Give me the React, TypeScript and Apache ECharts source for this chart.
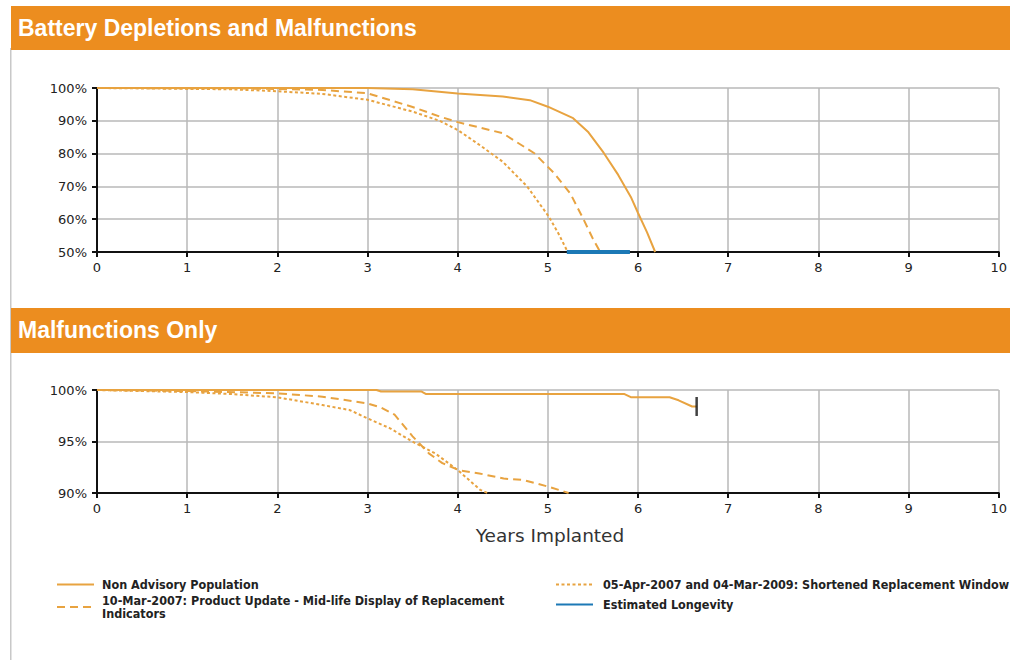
import React, { useEffect, useRef } from "react";
import * as echarts from "echarts";

// ---- data ----
const xTicks = [0, 1, 2, 3, 4, 5, 6, 7, 8, 9, 10];
const titleTop = "Battery Depletions and Malfunctions";
const titleBottom = "Malfunctions Only";
const xAxisTitle = "Years Implanted";

const seriesNames = [
  "Non Advisory Population",
  "10-Mar-2007: Product Update - Mid-life Display of Replacement Indicators",
  "05-Apr-2007 and 04-Mar-2009: Shortened Replacement Window",
  "Estimated Longevity",
];

// Chart 1: battery depletions and malfunctions (survival %)
const c1NonAdvisory: [number, number][] = [
  [0, 100], [2, 100], [3, 100], [3.5, 99.6], [4, 98.3], [4.5, 97.4], [4.8, 96.3],
  [5.0, 94.3], [5.28, 90.8], [5.45, 86.5], [5.62, 80.2], [5.78, 73.5], [5.92, 66.8],
  [6.0, 61.9], [6.1, 56], [6.19, 50],
];
const c1ProductUpdate: [number, number][] = [
  [0, 100], [1.5, 99.9], [2, 99.7], [2.5, 99.4], [3, 98.4], [3.5, 94.2], [3.8, 91.3],
  [4, 89.6], [4.5, 86.2], [4.85, 80.1], [5.07, 74], [5.25, 67.8], [5.4, 59.7],
  [5.5, 54], [5.58, 50],
];
const c1Shortened: [number, number][] = [
  [0, 100], [1.5, 99.6], [2, 99.0], [2.5, 98.2], [3, 96.4], [3.5, 92.8], [3.8, 90],
  [4, 87.2], [4.25, 82.5], [4.5, 77.5], [4.77, 70], [5.01, 60.8], [5.12, 55.5],
  [5.22, 50],
];
const c1Longevity: [number, number][] = [
  [5.21, 50], [5.91, 50],
];

// Chart 2: malfunctions only (survival %)
const c2NonAdvisory: [number, number][] = [
  [0, 100], [3.1, 100], [3.15, 99.85], [3.6, 99.85], [3.65, 99.6], [5.85, 99.6],
  [5.92, 99.3], [6.35, 99.3], [6.45, 99.0], [6.6, 98.4], [6.65, 98.4],
];
const c2ProductUpdate: [number, number][] = [
  [0, 100], [1, 99.9], [2, 99.68], [2.5, 99.35], [3, 98.7], [3.15, 98.3], [3.3, 97.6],
  [3.5, 95.5], [3.68, 93.85], [3.83, 92.9], [4.02, 92.2], [4.24, 91.9], [4.51, 91.4],
  [4.73, 91.26], [5.01, 90.6], [5.23, 90],
];
const c2Shortened: [number, number][] = [
  [0, 100], [1, 99.8], [1.5, 99.6], [2, 99.29], [2.5, 98.54], [2.8, 98.06], [3, 97.25],
  [3.25, 96.28], [3.5, 94.98], [3.75, 93.85], [4, 92.23], [4.25, 90.3], [4.33, 90],
];

const ORANGE_HEADER = "#EC8D1F";
const LINE_ORANGE = "#E8A340";
const BLUE = "#1C79B6";

export default function App() {
  const ref = useRef<HTMLDivElement>(null);

  useEffect(() => {
    if (!ref.current) return;
    const chart = echarts.init(ref.current, undefined, { renderer: "svg" });

    const axisFont = { fontFamily: "DejaVu Sans", fontSize: 13, color: "#222" };

    const makeXAxis = (gridIndex: number) => ({
      type: "value",
      gridIndex,
      min: xTicks[0],
      max: xTicks[xTicks.length - 1],
      interval: 1,
      axisLine: { show: true, onZero: false, lineStyle: { color: "#111", width: 2 } },
      axisTick: { show: true, length: 5, lineStyle: { color: "#111", width: 2 } },
      axisLabel: { ...axisFont, margin: 9 },
      splitLine: { show: true, lineStyle: { color: "#b8b8b8", width: 1.5 } },
    });

    const makeYAxis = (gridIndex: number, min: number, interval: number) => ({
      type: "value",
      gridIndex,
      min,
      max: 100,
      interval,
      axisLine: { show: true, onZero: false, lineStyle: { color: "#111", width: 2 } },
      axisTick: { show: true, length: 5, lineStyle: { color: "#111", width: 2 } },
      axisLabel: { ...axisFont, margin: 10, formatter: "{value}%" },
      splitLine: { show: true, lineStyle: { color: "#b8b8b8", width: 1.5 } },
    });

    const lineSeries = (
      name: string,
      data: [number, number][],
      idx: number,
      type: "solid" | "dashed" | "dotted"
    ) => ({
      name,
      type: "line",
      xAxisIndex: idx,
      yAxisIndex: idx,
      data,
      showSymbol: false,
      symbol: "none",
      clip: false,
      smooth: false,
      lineStyle: {
        color: LINE_ORANGE,
        width: 2,
        type: type === "solid" ? "solid" : type === "dashed" ? [8, 5] : [3, 2.5],
      },
      itemStyle: { color: LINE_ORANGE },
      z: 3,
    });

    const lastC2 = c2NonAdvisory[c2NonAdvisory.length - 1];

    const legendText = {
      fontFamily: "DejaVu Sans Condensed, DejaVu Sans",
      fontWeight: "bold",
      fontSize: 12.5,
      color: "#222",
      lineHeight: 13,
      padding: [0, 0, 0, 3],
    };

    chart.setOption({
      animation: false,
      backgroundColor: "#ffffff",
      grid: [
        { left: 97, top: 88, width: 904, height: 164 },
        { left: 97, top: 390, width: 904, height: 103 },
      ],
      xAxis: [makeXAxis(0), makeXAxis(1)],
      yAxis: [makeYAxis(0, 50, 10), makeYAxis(1, 90, 5)],
      legend: [
        {
          left: 51,
          top: 573,
          orient: "vertical",
          itemWidth: 37,
          itemHeight: 10,
          itemGap: 3,
          itemStyle: { opacity: 0 },
          data: [seriesNames[0], seriesNames[1]],
          textStyle: { ...legendText, width: 420, overflow: "break" },
          selectedMode: false,
        },
        {
          left: 550,
          top: 573,
          orient: "vertical",
          itemWidth: 37,
          itemHeight: 10,
          itemGap: 7,
          itemStyle: { opacity: 0 },
          data: [seriesNames[2], seriesNames[3]],
          textStyle: { ...legendText, padding: [0, 0, 0, 5] },
          selectedMode: false,
        },
      ],
      graphic: [
        { type: "rect", shape: { x: 10, y: 48, width: 1.5, height: 612 }, style: { fill: "#c8c8c8" } },
        { type: "rect", shape: { x: 11, y: 6, width: 999, height: 44 }, style: { fill: ORANGE_HEADER } },
        {
          type: "text",
          x: 18,
          y: 28,
          style: {
            text: titleTop,
            fill: "#ffffff",
            font: "bold 23px 'Liberation Sans', Arial, sans-serif",
            textVerticalAlign: "middle",
          },
        },
        { type: "rect", shape: { x: 11, y: 308, width: 999, height: 45 }, style: { fill: ORANGE_HEADER } },
        {
          type: "text",
          x: 18,
          y: 330,
          style: {
            text: titleBottom,
            fill: "#ffffff",
            font: "bold 23px 'Liberation Sans', Arial, sans-serif",
            textVerticalAlign: "middle",
          },
        },
        {
          type: "text",
          x: 550,
          y: 535,
          style: {
            text: xAxisTitle,
            fill: "#333",
            font: "18.5px 'DejaVu Sans', sans-serif",
            textAlign: "center",
            textVerticalAlign: "middle",
          },
        },
      ],
      series: [
        lineSeries(seriesNames[0], c1NonAdvisory, 0, "solid"),
        lineSeries(seriesNames[1], c1ProductUpdate, 0, "dashed"),
        lineSeries(seriesNames[2], c1Shortened, 0, "dotted"),
        {
          name: seriesNames[3],
          type: "line",
          xAxisIndex: 0,
          yAxisIndex: 0,
          data: c1Longevity,
          showSymbol: false,
          symbol: "none",
          clip: false,
          lineStyle: { color: BLUE, width: 4 },
          itemStyle: { color: BLUE },
          z: 4,
        },
        lineSeries(seriesNames[0], c2NonAdvisory, 1, "solid"),
        lineSeries(seriesNames[1], c2ProductUpdate, 1, "dashed"),
        lineSeries(seriesNames[2], c2Shortened, 1, "dotted"),
        {
          name: "censor",
          type: "scatter",
          xAxisIndex: 1,
          yAxisIndex: 1,
          data: [lastC2],
          symbol: "rect",
          symbolSize: [2.5, 19],
          itemStyle: { color: "#111" },
          clip: false,
          silent: true,
          z: 5,
        },
      ],
    });

    return () => chart.dispose();
  }, []);

  return (
    <div
      ref={ref}
      style={{ position: "fixed", left: 0, top: 0, width: 1010, height: 660, background: "#fff" }}
    />
  );
}
